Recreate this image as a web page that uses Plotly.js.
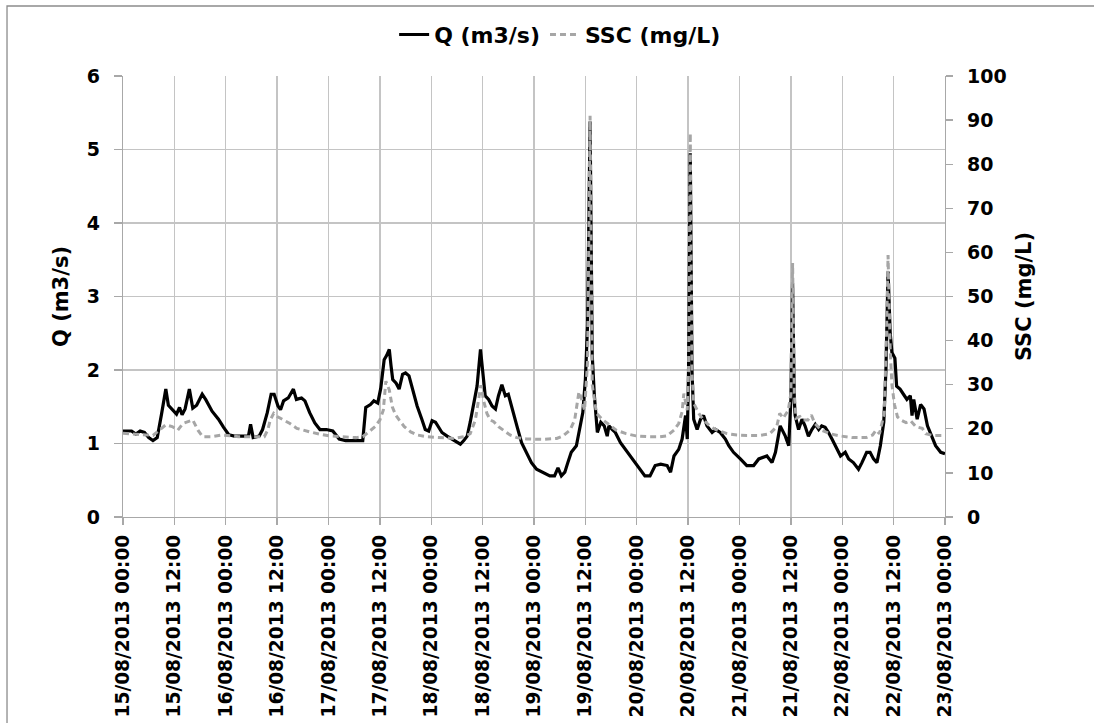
<!DOCTYPE html>
<html>
<head>
<meta charset="utf-8">
<script src="https://cdn.plot.ly/plotly-3.0.1.min.js"></script>
<style>
  html, body { margin: 0; padding: 0; background: #ffffff; }
  #chart { width: 1094px; height: 723px; }
</style>
</head>
<body>
<div id="chart"></div>
<script>
// Discharge and suspended sediment concentration, 15-23 August 2013.
// Times are hours after 15/08/2013 00:00.
const startUTC = Date.UTC(2013, 7, 15, 0, 0, 0);

const qHours = [
  0, 2, 3, 4, 5, 6, 7, 8, 9, 10, 10.6, 11.5, 12.5, 13.2, 13.8, 14.5, 15.5, 16.3, 17.2, 18.5, 19.3, 20.8, 22.3, 23.5,
  24.7, 26, 28, 29.3, 29.8, 30.4, 31.8, 32.6, 33.7, 34.6, 35.3, 36.2, 36.8, 37.5, 38.6, 39.8, 40.5, 41.7, 42.5, 43.6, 44.8, 46, 47.5,
  49, 50.5, 52, 54, 56, 56.7, 57.8, 58.6, 59.5, 60.2, 61.0, 61.6, 62.2, 62.6, 63.0, 63.8, 64.5, 65.3, 66.0, 66.8, 67.5, 68.7, 69.8, 70.6, 71.4,
  72.2, 73.0, 73.8, 74.5, 75.7, 77.3, 78.8, 79.6, 80.4, 81.1, 81.9, 82.7, 83.5, 84.1, 84.6, 85.4, 86.2, 87.0, 87.7, 88.5, 89.3, 90.0, 90.8, 92.0, 93.1, 94.3, 95.4,
  96.6, 98.1, 99.7, 100.8, 101.6, 102.4, 103.2, 103.9, 104.7, 105.9, 106.6, 107.4, 108.0, 108.5, 109.1, 109.6, 110.1, 110.8, 111.6, 112.4, 113.1, 113.5, 114.3, 115.0, 116.2, 117.3, 118.5, 119.6,
  120.8, 121.9, 123.1, 124.3, 125.6, 127.1, 127.9, 128.7, 129.8, 130.6, 131.4, 131.8, 132.1, 132.5, 132.9, 133.3, 134.1, 134.9, 135.6, 136.4, 137.6, 138.4, 139.5, 140.7, 141.5, 142.6,
  144.2, 145.7, 147.3, 148.5, 150.4, 151.6, 152.4, 153.5, 154.7, 155.5, 156.0, 156.4, 156.8, 157.0, 157.8, 158.6, 159.3, 160.1, 160.9, 161.7, 162.5, 163.2, 164.0, 164.8, 165.6, 166.8, 167.6,
  168.7, 169.5, 170.6, 171.8, 172.6, 173.7, 174.5, 175.3, 176.1, 176.9, 177.7, 178.2, 178.7, 179.2, 179.6, 180.3, 180.7, 181.5, 182.3, 183.1, 183.9, 184.3, 184.7, 185.5, 186.3, 187.1, 187.9, 188.6, 189.8, 191.0, 192
];
const qFlow = [
  1.17, 1.17, 1.13, 1.17, 1.15, 1.08, 1.04, 1.08, 1.40, 1.74, 1.52, 1.46, 1.40, 1.49, 1.39, 1.47, 1.74, 1.48, 1.52, 1.67, 1.60, 1.44, 1.33, 1.22,
  1.12, 1.10, 1.10, 1.10, 1.26, 1.08, 1.10, 1.19, 1.42, 1.67, 1.67, 1.51, 1.46, 1.58, 1.62, 1.74, 1.60, 1.62, 1.58, 1.42, 1.28, 1.19, 1.19,
  1.17, 1.06, 1.04, 1.04, 1.04, 1.49, 1.53, 1.58, 1.55, 1.75, 2.14, 2.20, 2.28, 2.06, 1.87, 1.82, 1.74, 1.94, 1.96, 1.92, 1.78, 1.51, 1.33, 1.19, 1.17,
  1.31, 1.29, 1.22, 1.15, 1.10, 1.04, 0.99, 1.04, 1.10, 1.29, 1.51, 1.78, 2.28, 1.92, 1.65, 1.60, 1.51, 1.47, 1.65, 1.80, 1.65, 1.67, 1.51, 1.24, 1.01, 0.88, 0.74,
  0.65, 0.61, 0.56, 0.56, 0.67, 0.56, 0.61, 0.74, 0.88, 0.97, 1.19, 1.42, 1.87, 2.60, 5.38, 2.20, 1.65, 1.15, 1.29, 1.24, 1.10, 1.24, 1.19, 1.15, 1.01, 0.92, 0.83, 0.74,
  0.65, 0.56, 0.56, 0.70, 0.72, 0.70, 0.61, 0.83, 0.92, 1.06, 1.38, 1.06, 2.00, 4.95, 2.00, 1.33, 1.19, 1.33, 1.38, 1.24, 1.15, 1.19, 1.15, 1.06, 0.97, 0.88,
  0.79, 0.70, 0.70, 0.79, 0.83, 0.74, 0.88, 1.24, 1.10, 0.97, 1.60, 3.18, 1.60, 1.38, 1.19, 1.33, 1.24, 1.10, 1.19, 1.26, 1.19, 1.24, 1.22, 1.15, 1.06, 0.92, 0.83,
  0.88, 0.79, 0.74, 0.65, 0.74, 0.88, 0.88, 0.79, 0.74, 0.97, 1.29, 2.00, 3.34, 2.50, 2.24, 2.16, 1.78, 1.74, 1.67, 1.60, 1.65, 1.38, 1.60, 1.33, 1.53, 1.47, 1.24, 1.15, 0.97, 0.88, 0.86
];

const sscHours = [
  0, 4, 7, 8.5, 10, 11.5, 12.8, 14, 15.2, 16.3, 17.5, 18.6, 20.5, 23,
  25, 27, 31, 33, 33.8, 34.4, 35.2, 36, 37.5, 39, 40.6, 42, 43.6, 45.9,
  48.3, 51.3, 54.4, 56, 57.4, 58.9, 60.0, 60.8, 61.4, 62.2, 62.9, 63.7, 64.5, 65.7, 67.2, 68.7, 71.1,
  73.4, 77.3, 79.6, 81.1, 82.3, 83.1, 83.6, 84.2, 85.0, 85.8, 86.6, 87.7, 88.9, 90.4, 92.0, 94.3,
  98.2, 101.3, 102.8, 104.4, 105.5, 106.5, 107.1, 107.8, 108.5, 109.1, 109.6, 110.6, 112.1, 113.7, 115.2, 117.5, 119.8,
  122.9, 125.3, 127.1, 128.7, 129.8, 130.6, 131.0, 131.8, 132.1, 132.5, 132.9, 133.3, 134.5, 135.6, 137.2, 138.7, 141.1, 143.4,
  145.7, 148.8, 151.1, 152.7, 153.4, 154.2, 155.4, 156.0, 156.4, 156.8, 157.2, 158.1, 158.9, 160.0, 160.8, 161.6, 163.1, 165.1, 167.4,
  170.5, 173.6, 175.1, 175.9, 176.7, 177.8, 178.3, 178.7, 179.2, 179.6, 180.2, 180.9, 181.7, 182.9, 184.0, 185.2, 186.7, 187.5, 189.1, 191.4, 192
];
const sscConc = [
  19.0, 18.8, 18.5, 19.7, 20.9, 20.5, 19.7, 21.2, 21.6, 22.0, 19.7, 18.2, 18.2, 18.6,
  18.4, 18.2, 18.2, 18.2, 19.7, 22.0, 23.5, 22.8, 22.0, 21.2, 20.1, 19.7, 19.3, 18.8,
  18.4, 18.2, 18.0, 18.2, 19.3, 20.5, 22.0, 24.2, 30.8, 28.8, 25.0, 23.1, 22.0, 20.5, 19.3, 18.6, 18.2,
  18.0, 17.8, 18.2, 18.9, 22.0, 27.3, 29.9, 26.5, 23.5, 22.0, 21.6, 20.5, 19.7, 18.6, 18.0, 17.7,
  17.6, 17.8, 18.4, 19.7, 22.0, 28.4, 26.8, 24.2, 35.0, 91.0, 30.0, 23.5, 22.0, 20.9, 19.7, 18.9, 18.4,
  18.2, 18.2, 18.4, 19.7, 21.2, 23.9, 28.0, 24.2, 33.0, 87.0, 33.0, 25.8, 23.5, 22.0, 20.5, 19.7, 18.9, 18.6,
  18.5, 18.5, 18.9, 20.5, 23.5, 22.4, 24.2, 28.0, 57.6, 28.0, 22.4, 22.8, 22.0, 22.0, 23.1, 21.2, 19.7, 18.9, 18.4,
  18.0, 18.0, 18.6, 19.7, 18.9, 23.5, 40.0, 59.4, 38.0, 30.0, 25.5, 22.7, 22.0, 21.4, 21.8, 20.5, 20.1, 18.9, 18.5, 18.5, 18.5
];

const qTicks = [0, 1, 2, 3, 4, 5, 6];
const sscTicks = [0, 10, 20, 30, 40, 50, 60, 70, 80, 90, 100];

function toDate(h) {
  return new Date(startUTC + h * 3600000).toISOString().slice(0, 19).replace('T', ' ');
}

const FONT = 'DejaVu Sans, Liberation Sans, sans-serif';
const GRID = '#c4c4c4';
const AXIS = '#a8a8a8';

const traces = [
  {
    x: qHours.map(toDate), y: qFlow, name: 'Q (m3/s)', type: 'scatter', mode: 'lines',
    line: { color: '#000000', width: 3.2 }, yaxis: 'y'
  },
  {
    x: sscHours.map(toDate), y: sscConc, name: 'SSC (mg/L)', type: 'scatter', mode: 'lines',
    line: { color: '#a6a6a6', width: 3, dash: '6px,4px' }, yaxis: 'y2'
  }
];

const tickFont = { family: FONT, size: 19, color: '#000000', weight: 700 };
const xTickFont = { family: FONT, size: 18.6, color: '#000000', weight: 700 };
const titleFont = { family: FONT, size: 21, color: '#000000', weight: 700 };

const layout = {
  width: 1094, height: 723,
  margin: { l: 123, r: 149, t: 76, b: 206 },
  paper_bgcolor: '#ffffff', plot_bgcolor: '#ffffff',
  font: { family: FONT, color: '#000000' },
  showlegend: true,
  legend: {
    orientation: 'h', xref: 'container', yref: 'container',
    x: 0.512, xanchor: 'center', y: 0.952, yanchor: 'middle',
    font: { family: FONT, size: 22, color: '#000000', weight: 700 },
    tracegroupgap: 0
  },
  xaxis: {
    type: 'date',
    range: [toDate(0), toDate(192)],
    tick0: toDate(0), dtick: 43200000,
    tickformat: '%d/%m/%Y %H:%M', tickangle: -90,
    tickfont: xTickFont, ticklabelstandoff: 2,
    showgrid: true, gridcolor: GRID, gridwidth: 1.3,
    showline: true, linecolor: AXIS, linewidth: 1.3,
    ticks: 'outside', ticklen: 7, tickcolor: AXIS, tickwidth: 1.3,
    zeroline: false, automargin: false
  },
  yaxis: {
    range: [0, 6], tickvals: qTicks,
    tickfont: tickFont, ticklabelstandoff: 10,
    title: { text: 'Q (m3/s)', font: titleFont, standoff: 12 },
    showgrid: true, gridcolor: GRID, gridwidth: 1.3,
    showline: true, linecolor: AXIS, linewidth: 1.3,
    ticks: 'outside', ticklen: 8, tickcolor: AXIS, tickwidth: 1.3,
    zeroline: false, automargin: false
  },
  yaxis2: {
    range: [0, 100], tickvals: sscTicks,
    overlaying: 'y', side: 'right',
    tickfont: tickFont, ticklabelstandoff: 10,
    title: { text: 'SSC (mg/L)', font: titleFont, standoff: 10 },
    showgrid: false,
    showline: true, linecolor: AXIS, linewidth: 1.3,
    ticks: 'outside', ticklen: 7, tickcolor: AXIS, tickwidth: 1.3,
    zeroline: false, automargin: false
  },
  shapes: [
    {
      type: 'rect', xref: 'paper', yref: 'paper',
      x0: -0.1411, x1: 1.2, y0: -0.6, y1: 1.1587,
      line: { color: '#8c8c8c', width: 1.3 }, fillcolor: 'rgba(0,0,0,0)', layer: 'below'
    }
  ]
};

Plotly.newPlot('chart', traces, layout, { staticPlot: true, displayModeBar: false });
</script>
</body>
</html>
